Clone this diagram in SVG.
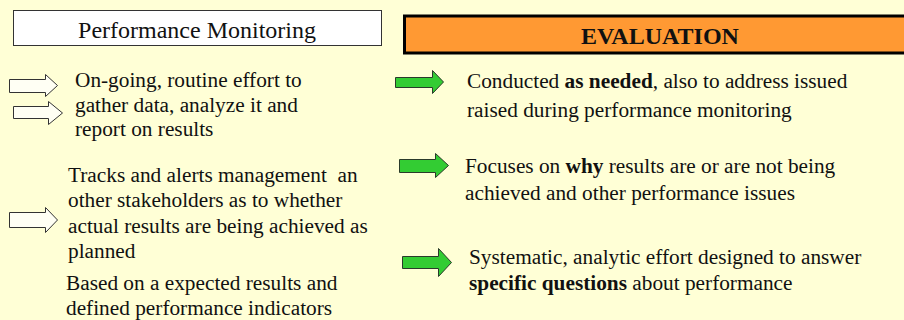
<svg xmlns="http://www.w3.org/2000/svg" width="904" height="320" viewBox="0 0 904 320">
<style>
  .t { font-family: "Liberation Serif", "Times New Roman", "DejaVu Serif", serif; font-size: 21.3px; fill: #111; }
  .h { font-size: 24px; }
  .b { font-weight: bold; }
  .wa { fill: #FFFFF4; stroke: #333; stroke-width: 1; }
  .ga { fill: #33CC33; stroke: #2a3a2a; stroke-width: 1; }
</style>
<rect x="0" y="0" width="904" height="320" fill="#FFFFD6"/>
<g id="pm-header">
  <rect x="13.5" y="10.5" width="368" height="35" fill="#FFFFFF" stroke="#333" stroke-width="1"/>
  <text class="t h" x="197" y="38" text-anchor="middle">Performance Monitoring</text>
</g>
<g id="eval-header">
  <rect x="404.5" y="16" width="510" height="37" fill="#FF9933" stroke="#000" stroke-width="3"/>
  <text class="t h b" x="660" y="44" text-anchor="middle">EVALUATION</text>
</g>
<g id="connectors">
  <path class="wa" d="M9.5,79.5 H45.5 V74.5 L57.5,85.5 L45.5,96.5 V92.5 H9.5 Z"/>
  <path class="wa" d="M13.5,106.5 H48.5 V101.5 L62.5,113 L48.5,124.5 V118.5 H13.5 Z"/>
  <path class="wa" d="M9.5,212.5 H45.5 V207.5 L57.5,220 L45.5,232.5 V227.5 H9.5 Z"/>
  <path class="ga" d="M395.5,77.5 H432.5 V70.5 L443.5,82 L432.5,93.5 V87.5 H395.5 Z"/>
  <path class="ga" d="M399.5,159.5 H435.5 V153.5 L448.5,165.5 L435.5,177.5 V172.5 H399.5 Z"/>
  <path class="ga" d="M402.5,256.5 H438.5 V248.5 L451.5,262.5 L438.5,276.5 V268.5 H402.5 Z"/>
</g>
<g id="pm-item1">
  <text class="t" x="75" y="87">On-going, routine effort to</text>
  <text class="t" x="75" y="111.5">gather data, analyze it and</text>
  <text class="t" x="75" y="136">report on results</text>
</g>
<g id="pm-item2">
  <text class="t" x="68" y="182">Tracks and alerts management&#160; an</text>
  <text class="t" x="68" y="207">other stakeholders as to whether</text>
  <text class="t" x="68" y="232.5">actual results are being achieved as</text>
  <text class="t" x="68" y="257.5">planned</text>
</g>
<g id="pm-item3">
  <text class="t" x="66" y="290">Based on a expected results and</text>
  <text class="t" x="66" y="315">defined performance indicators</text>
</g>
<g id="eval-item1">
  <text class="t" x="467" y="88">Conducted <tspan class="b">as needed</tspan>, also to address issued</text>
  <text class="t" x="467" y="116.5">raised during performance monitoring</text>
</g>
<g id="eval-item2">
  <text class="t" x="465" y="173">Focuses on <tspan class="b">why</tspan> results are or are not being</text>
  <text class="t" x="465" y="200">achieved and other performance issues</text>
</g>
<g id="eval-item3">
  <text class="t" x="469" y="264">Systematic, analytic effort designed to answer</text>
  <text class="t" x="469" y="290"><tspan class="b">specific questions</tspan> about performance</text>
</g>
</svg>
